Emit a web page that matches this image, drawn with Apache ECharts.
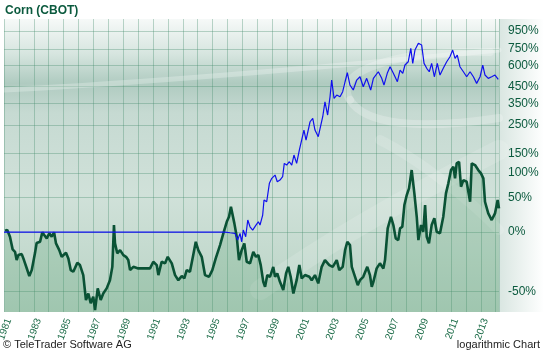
<!DOCTYPE html>
<html>
<head>
<meta charset="utf-8">
<script src="https://cdn.jsdelivr.net/npm/echarts@6/dist/echarts.min.js"></script>
<style>
html, body { margin: 0; padding: 0; background: #fff; }
#chart { width: 544px; height: 353px; }
</style>
</head>
<body>
<div id="chart"></div>
<script>
// Corn (CBOT), % change since 1981 (log scale)
const greenYears = [1981.07, 1981.22, 1981.40, 1981.58, 1981.74, 1981.85, 1981.96, 1982.19, 1982.34, 1982.52,
  1982.70, 1982.86, 1983.08, 1983.19, 1983.42, 1983.57, 1983.70, 1983.87, 1984.04, 1984.20,
  1984.36, 1984.49, 1984.71, 1984.87, 1985.16, 1985.32, 1985.48, 1985.65, 1985.92, 1986.10,
  1986.32, 1986.50, 1986.66, 1986.82, 1986.99, 1987.11, 1987.29, 1987.49, 1987.66, 1987.89,
  1988.11, 1988.27, 1988.38, 1988.45, 1988.60, 1988.79, 1989.01, 1989.19, 1989.34, 1989.46,
  1989.68, 1990.01, 1990.80, 1991.02, 1991.25, 1991.36, 1991.58, 1991.81, 1991.99, 1992.26,
  1992.48, 1992.70, 1992.93, 1993.10, 1993.26, 1993.48, 1993.70, 1993.87, 1994.04, 1994.27,
  1994.49, 1994.76, 1994.98, 1995.21, 1995.50, 1995.72, 1995.95, 1996.10, 1996.23, 1996.35,
  1996.46, 1996.62, 1996.77, 1996.95, 1997.13, 1997.29, 1997.51, 1997.73, 1997.91, 1998.07,
  1998.23, 1998.40, 1998.52, 1998.67, 1998.85, 1999.07, 1999.19, 1999.34, 1999.52, 1999.74,
  1999.93, 2000.08, 2000.24, 2000.42, 2000.64, 2000.82, 2000.98, 2001.20, 2001.49, 2001.65,
  2001.87, 2002.09, 2002.32, 2002.54, 2002.83, 2003.06, 2003.33, 2003.50, 2003.73, 2003.89,
  2004.04, 2004.22, 2004.34, 2004.56, 2004.74, 2004.89, 2005.11, 2005.38, 2005.56, 2005.68,
  2005.79, 2006.01, 2006.23, 2006.30, 2006.46, 2006.57, 2006.75, 2006.97, 2007.13, 2007.29,
  2007.46, 2007.58, 2007.73, 2007.87, 2008.03, 2008.18, 2008.36, 2008.54, 2008.70, 2008.81,
  2008.99, 2009.14, 2009.26, 2009.37, 2009.52, 2009.70, 2009.88, 2010.04, 2010.26, 2010.48,
  2010.66, 2010.82, 2011.00, 2011.16, 2011.27, 2011.38, 2011.54, 2011.67, 2011.83, 2012.05,
  2012.28, 2012.39, 2012.61, 2012.83, 2013.01, 2013.17, 2013.28, 2013.50, 2013.73, 2013.95,
  2014.13, 2014.22]
const greenPct = [1.5, 2.4, -5.3, -18.3, -20.6, -27.9, -23.6, -22.7, -27.9, -34.3,
  -40.2, -35.9, -21.8, -12.0, -10.7, -0.3, -3.4, -7.1, -1.5, -5.3,
  -0.3, -12.4, -19.0, -25.1, -21.5, -26.5, -35.9, -37.1, -30.2, -32.0,
  -39.5, -54.8, -51.2, -56.5, -53.0, -59.8, -48.2, -54.8, -51.2, -48.2,
  -43.0, -33.4, 8.5, -12.4, -22.0, -19.0, -23.6, -25.1, -27.9, -35.9,
  -33.4, -34.6, -34.6, -29.3, -32.0, -39.5, -29.3, -30.6, -25.1, -30.6,
  -39.5, -43.0, -40.2, -41.8, -35.9, -37.1, -23.6, -10.7, -19.0, -25.1,
  -39.5, -40.7, -35.9, -26.5, -14.1, -1.5, 12.8, 19.6, 34.4, 37.1,
  10.7, -5.3, -27.9, -19.0, -12.4, -29.3, -30.6, -20.6, -25.1, -23.6,
  -32.0, -44.1, -47.2, -39.5, -40.7, -33.4, -40.7, -38.3, -44.1, -49.2,
  -38.3, -33.4, -40.7, -51.2, -43.0, -32.0, -41.8, -39.5, -40.7, -43.0,
  -39.5, -45.1, -33.4, -27.9, -32.0, -33.4, -27.9, -35.9, -33.4, -19.0,
  -10.7, -14.1, -33.4, -40.7, -46.2, -43.0, -40.7, -33.4, -39.5, -47.2,
  -44.1, -34.6, -30.6, -29.3, -34.6, -27.9, 4.4, 19.6, 8.5, -7.1,
  -8.9, 4.4, 6.4, 37.1, 54.1, 66.7, 106.4, 57.2, 19.6, -8.9,
  8.5, 0.4, 37.1, -5.3, -12.4, 8.5, 17.4, 0.4, -1.5, 19.6,
  57.2, 76.7, 106.4, 114.5, 87.4, 123.2, 127.5, 69.8, 83.6, 80.0,
  42.5, 123.2, 118.8, 106.4, 98.6, 87.4, 42.5, 24.4, 15.1, 24.4,
  45.4, 31.9]

// comparison line (blue), flat at 0 until mid 1996
const blueYears = [1981.00, 1995.83, 1996.17, 1996.50, 1996.68, 1996.84, 1996.95, 1997.06, 1997.22, 1997.36,
  1997.51, 1997.69, 1997.91, 1998.07, 1998.18, 1998.36, 1998.45, 1998.63, 1998.81, 1998.97,
  1999.19, 1999.34, 1999.52, 1999.70, 1999.81, 1999.97, 2000.15, 2000.31, 2000.46, 2000.64,
  2000.82, 2001.13, 2001.27, 2001.54, 2001.72, 2001.87, 2002.09, 2002.39, 2002.54, 2002.72,
  2002.88, 2002.99, 2003.15, 2003.33, 2003.55, 2003.73, 2003.89, 2004.04, 2004.22, 2004.44,
  2004.67, 2004.89, 2005.11, 2005.34, 2005.61, 2005.79, 2006.12, 2006.35, 2006.50, 2006.72,
  2006.91, 2007.13, 2007.40, 2007.58, 2007.76, 2007.91, 2008.13, 2008.30, 2008.43, 2008.58,
  2008.81, 2009.03, 2009.19, 2009.37, 2009.54, 2009.70, 2009.88, 2010.08, 2010.26, 2010.48,
  2010.71, 2010.93, 2011.11, 2011.27, 2011.42, 2011.60, 2011.83, 2012.05, 2012.28, 2012.50,
  2012.72, 2012.95, 2013.13, 2013.28, 2013.50, 2013.73, 2013.95, 2014.17]
const bluePct = [0, 0, -0.8, -1.5, -8.9, -1.5, -10.7, 2.4, -5.3, 15.1,
  6.4, 2.4, 8.5, 12.8, 8.5, 22.0, 45.4, 42.5, 76.7, 87.4,
  94.7, 80.0, 83.6, 90.9, 123.2, 118.8, 127.5, 118.8, 146, 123.2,
  160.8, 229.5, 193.1, 263, 277.8, 229.5, 204.7, 284.9, 358.5, 292.6,
  386.2, 490.9, 377.2, 396, 386.2, 415.5, 479.4, 543.6, 457.4, 425.9,
  490.9, 514.1, 446.5, 502.8, 425.9, 502.8, 551.2, 502.8, 457.4, 539.1,
  590.5, 539.1, 479.4, 564.2, 539.1, 604.3, 632.1, 755.9, 618.3, 739.1,
  807.7, 789.8, 618.3, 577.6, 551.2, 618.3, 514.1, 618.3, 526.6, 577.6,
  632.1, 675.9, 739.1, 661.5, 691.5, 590.5, 551.2, 514.1, 551.2, 514.1,
  468.5, 514.1, 604.3, 526.6, 502.8, 514.1, 526.6, 495.8]

const yTicks = [-50, 0, 50, 100, 150, 250, 350, 450, 600, 750, 950]

const toLog = p => Math.log10(1 + p / 100)
const fromLog = v => (Math.pow(10, v) - 1) * 100

const chart = echarts.init(document.getElementById('chart'))

// soft white swooshes of the background
const swoosh = (x1, y1, cx1, cy1, cx2, cy2, x2, y2, w, op) => ({
  type: 'bezierCurve', z: 1, silent: true,
  shape: { x1: x1, y1: y1, cpx1: cx1, cpy1: cy1, cpx2: cx2, cpy2: cy2, x2: x2, y2: y2 },
  style: {
    fill: null, stroke: 'rgba(255,255,255,' + op + ')', lineWidth: w, lineCap: 'round',
    shadowBlur: 8, shadowColor: 'rgba(255,255,255,' + op + ')'
  }
})

const option = {
  animation: false,
  backgroundColor: '#fff',
  title: {
    text: 'Corn (CBOT)',
    left: 0,
    top: 0,
    textStyle: { color: '#0b5a3e', fontSize: 12, fontWeight: 'bold', fontFamily: 'Liberation Sans, Arial' }
  },
  graphic: [
    {
      // light strip right of plot
      type: 'rect', z: -10, silent: true,
      shape: { x: 499, y: 19, width: 45, height: 293 },
      style: {
        fill: new echarts.graphic.LinearGradient(0, 0, 1, 0, [
          { offset: 0, color: '#d9e6e1' }, { offset: 1, color: '#ffffff' }
        ])
      }
    },
    swoosh(4, 90, 120, 84, 260, 74, 499, 50, 5, 0.25),
    swoosh(490, 52, 400, 50, 330, 70, 350, 100, 8, 0.22),
    swoosh(350, 100, 365, 125, 420, 130, 499, 118, 8, 0.22),
    swoosh(380, 140, 420, 160, 470, 200, 499, 230, 10, 0.15),
    swoosh(260, 290, 330, 240, 420, 190, 499, 150, 20, 0.14),
    {
      type: 'text', left: 3, bottom: 3,
      style: { text: '\u00a9 TeleTrader Software AG', fill: '#222', font: '11px Liberation Sans, Arial' }
    },
    {
      type: 'text', right: 4, bottom: 3,
      style: { text: 'logarithmic Chart', fill: '#222', font: '11px Liberation Sans, Arial' }
    }
  ],
  grid: {
    left: 4,
    right: 45,
    top: 19,
    bottom: 41,
    outerBoundsMode: 'none',
    show: true,
    borderWidth: 0,
    backgroundColor: new echarts.graphic.LinearGradient(0, 0, 0, 1, [
      { offset: 0, color: '#f6f9f8' },
      { offset: 0.12, color: '#d6e5df' },
      { offset: 0.22, color: '#afcbc0' },
      { offset: 0.32, color: '#c6dad2' },
      { offset: 0.6, color: '#d0e1d9' },
      { offset: 1, color: '#b8d3c4' }
    ])
  },
  xAxis: {
    type: 'value',
    min: 1981,
    max: 2014.22,
    interval: 1,
    axisLine: { show: false },
    axisTick: { show: false },
    splitLine: { show: true, lineStyle: { color: 'rgba(70,140,110,0.35)', width: 1 } },
    axisLabel: {
      rotate: 70,
      margin: 5,
      verticalAlign: 'top',
      color: '#1b6b47',
      fontSize: 10,
      fontFamily: 'Liberation Sans, Arial',
      formatter: v => (Number.isInteger(v) && v % 2 === 1) ? String(v) : ''
    }
  },
  yAxis: {
    type: 'value',
    position: 'right',
    min: toLog(-60.7),
    max: toLog(1106),
    axisLine: { show: false },
    axisTick: { show: false, customValues: yTicks.map(toLog) },
    splitLine: { show: true, lineStyle: { color: 'rgba(70,140,110,0.35)', width: 1 } },
    axisLabel: {
      customValues: yTicks.map(toLog),
      margin: 9,
      color: '#0b5a3e',
      fontSize: 12,
      fontFamily: 'Liberation Sans, Arial',
      formatter: v => Math.round(fromLog(v)) + '%'
    }
  },
  series: [
    {
      name: 'Corn',
      type: 'line',
      showSymbol: false,
      data: greenYears.map((y, i) => [y, toLog(greenPct[i])]),
      lineStyle: { color: '#0a5235', width: 2.6 },
      areaStyle: { origin: 'start', color: 'rgba(70,150,100,0.3)' },
      z: 3
    },
    {
      name: 'Compare',
      type: 'line',
      showSymbol: false,
      data: blueYears.map((y, i) => [y, toLog(bluePct[i])]),
      lineStyle: { color: '#1010ee', width: 1.2 },
      z: 4
    }
  ]
}

chart.setOption(option)
</script>
</body>
</html>
